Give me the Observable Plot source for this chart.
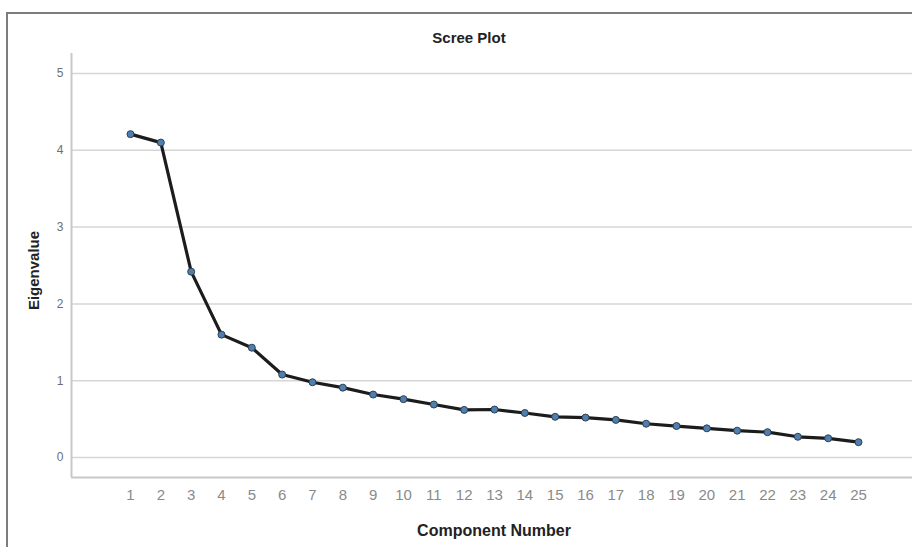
<!DOCTYPE html>
<html>
<head>
<meta charset="utf-8">
<script src="https://cdn.jsdelivr.net/npm/d3@7"></script>
<script src="https://cdn.jsdelivr.net/npm/@observablehq/plot@0.6"></script>
<style>
  html, body { margin: 0; padding: 0; background: #fff; overflow: hidden; }
  #wrap { position: relative; width: 912px; height: 547px; }
  #border { position: absolute; left: 6px; top: 12px; width: 920px; height: 560px;
            border-top: 2px solid #7d7d7d; border-left: 2px solid #7d7d7d; box-sizing: border-box; pointer-events: none; }
</style>
</head>
<body>
<div id="wrap"><div id="border"></div></div>
<script>
const components = [1,2,3,4,5,6,7,8,9,10,11,12,13,14,15,16,17,18,19,20,21,22,23,24,25];
const eigenvalues = [4.21,4.10,2.42,1.60,1.43,1.08,0.98,0.91,0.82,0.76,0.69,0.62,0.625,0.58,0.53,0.52,0.49,0.44,0.41,0.38,0.35,0.33,0.27,0.25,0.20];
const yTicks = [0,1,2,3,4,5];
const xDomain = [-0.945, 26.78];
const yDomain = [-0.26, 5.26];
const title = "Scree Plot";
const xLabel = "Component Number";
const yLabel = "Eigenvalue";

const data = components.map((c, i) => ({component: c, eigenvalue: eigenvalues[i]}));

const chart = Plot.plot({
  width: 912,
  height: 547,
  marginTop: 53,
  marginBottom: 70,
  marginLeft: 71,
  marginRight: 0,
  style: {fontFamily: "'Liberation Sans', Arial, sans-serif", background: "transparent"},
  x: {domain: xDomain},
  y: {domain: yDomain},
  marks: [
    Plot.gridY(yTicks, {stroke: "#d6d6d6", strokeOpacity: 1, strokeWidth: 1.5}),
    Plot.ruleY([yDomain[0]], {stroke: "#c8c8c8", strokeWidth: 2}),
    Plot.ruleX([xDomain[0]], {stroke: "#c8c8c8", strokeWidth: 2}),
    Plot.axisY(yTicks, {tickSize: 0, tickPadding: 8, fontSize: 12, fill: "#6e6e6e", label: null, tickFormat: d => String(d)}),
    Plot.axisX(components, {tickSize: 0, tickPadding: 12, fontSize: 15, fill: "#8a8a8a", label: null, tickFormat: d => String(d)}),
    Plot.line(data, {x: "component", y: "eigenvalue", stroke: "#1c1c1c", strokeWidth: 3.2}),
    Plot.dot(data, {x: "component", y: "eigenvalue", r: 3.5, fill: "#4f7fae", stroke: "#2f3f52", strokeWidth: 1}),
    Plot.text([title], {frameAnchor: "top", lineAnchor: "middle", dx: -23, dy: -15, fontSize: 15, fontWeight: "bold", fill: "#222", text: d => d}),
    Plot.text([xLabel], {frameAnchor: "bottom", lineAnchor: "middle", dx: 2, dy: 53, fontSize: 16, fontWeight: "bold", fill: "#222", text: d => d}),
    Plot.text([yLabel], {frameAnchor: "left", textAnchor: "middle", lineAnchor: "middle", dx: -37, dy: 5, rotate: -90, fontSize: 15, fontWeight: "bold", fill: "#222", text: d => d})
  ]
});
document.getElementById("wrap").prepend(chart);
</script>
</body>
</html>
